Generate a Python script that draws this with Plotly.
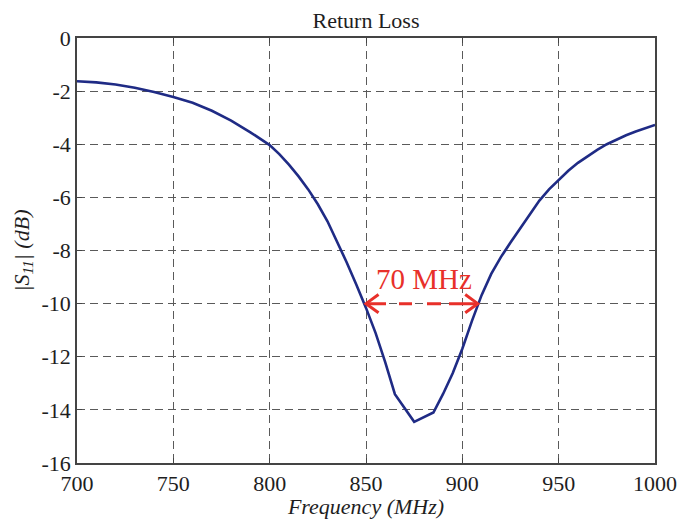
import plotly.graph_objects as go

# Measured |S11| of the antenna versus frequency
freq_mhz = [700, 710, 720, 730, 740, 750, 760, 770, 780, 790, 800, 805, 810, 815,
            820, 825, 830, 835, 840, 845, 850, 855, 860, 865, 875, 885, 890, 895,
            900, 905, 910, 915, 920, 925, 930, 935, 940, 945, 950, 955, 960, 965,
            970, 975, 980, 985, 990, 995, 1000]
s11_db = [-1.63, -1.67, -1.75, -1.87, -2.03, -2.22, -2.44, -2.74, -3.11, -3.55, -4.03,
          -4.37, -4.77, -5.21, -5.70, -6.26, -6.90, -7.65, -8.45, -9.29, -10.16, -11.11,
          -12.21, -13.41, -14.45, -14.10, -13.40, -12.62, -11.70, -10.65, -9.68, -8.88,
          -8.25, -7.70, -7.16, -6.63, -6.12, -5.70, -5.33, -5.00, -4.70, -4.44, -4.21,
          -4.00, -3.82, -3.66, -3.52, -3.39, -3.27]

# -10 dB bandwidth marker
bw_edges = [850, 908]
bw_level = -10
bw_label = "70 MHz"

x_ticks = [700, 750, 800, 850, 900, 950, 1000]
y_ticks = [0, -2, -4, -6, -8, -10, -12, -14, -16]

serif = "Liberation Serif, Times New Roman, serif"
ink = "#1e1e1e"
red = "#e8302a"

fig = go.Figure()

fig.add_trace(go.Scatter(
    x=freq_mhz, y=s11_db, mode="lines",
    line=dict(color="#1f2b85", width=2.6),
    showlegend=False, hoverinfo="skip",
))

# dashed bandwidth line between the two -10 dB crossings
fig.add_trace(go.Scatter(
    x=bw_edges, y=[bw_level, bw_level], mode="lines",
    line=dict(color=red, width=3,
              dash="20px,13px,13px,15px,14px,8px,60px"),
    showlegend=False, hoverinfo="skip",
))

# open chevron heads at both ends, sized relative to the axis scales
head_len = 6.5   # MHz
head_half = 0.34  # dB
for edge, sign in zip(bw_edges, [1, -1]):
    fig.add_trace(go.Scatter(
        x=[edge + sign * head_len, edge, edge + sign * head_len],
        y=[bw_level + head_half, bw_level, bw_level - head_half],
        mode="lines", line=dict(color=red, width=3),
        showlegend=False, hoverinfo="skip",
    ))

fig.add_annotation(
    x=sum(bw_edges) / 2 + 1, y=bw_level, yshift=25, text=bw_label,
    showarrow=False, font=dict(family=serif, size=29, color=red),
)

fig.update_layout(
    width=679, height=519,
    margin=dict(l=77, r=24, t=38, b=56),
    paper_bgcolor="white", plot_bgcolor="white",
    title=dict(text="Return Loss", x=0.5, xanchor="center", xref="paper",
               y=1, yref="paper", yanchor="bottom", pad=dict(b=10),
               font=dict(family=serif, size=22, color=ink)),
    font=dict(family=serif, size=22, color=ink),
)

axis_common = dict(
    automargin=False,
    showline=True, linecolor="#444444", linewidth=1.6, mirror="ticks",
    ticks="inside", ticklen=5, tickcolor="#444444",
    showgrid=True, gridcolor="#5a5a5a", gridwidth=1, griddash="8px,5px",
    zeroline=False, tickfont=dict(family=serif, size=22, color=ink),
)

fig.update_xaxes(
    range=[700, 1000], tickvals=x_ticks, ticktext=[str(v) for v in x_ticks],
    title=dict(text="<i>Frequency (MHz)</i>", standoff=0,
               font=dict(family=serif, size=22, color=ink)),
    **axis_common,
)
fig.update_yaxes(
    range=[-16, 0], tickvals=y_ticks, ticktext=[str(v) for v in y_ticks],
    title=dict(text="<i>|S<sub>11</sub>| (dB)</i>", standoff=6,
               font=dict(family=serif, size=22, color=ink)),
    **axis_common,
)

fig.write_html("out.html")
